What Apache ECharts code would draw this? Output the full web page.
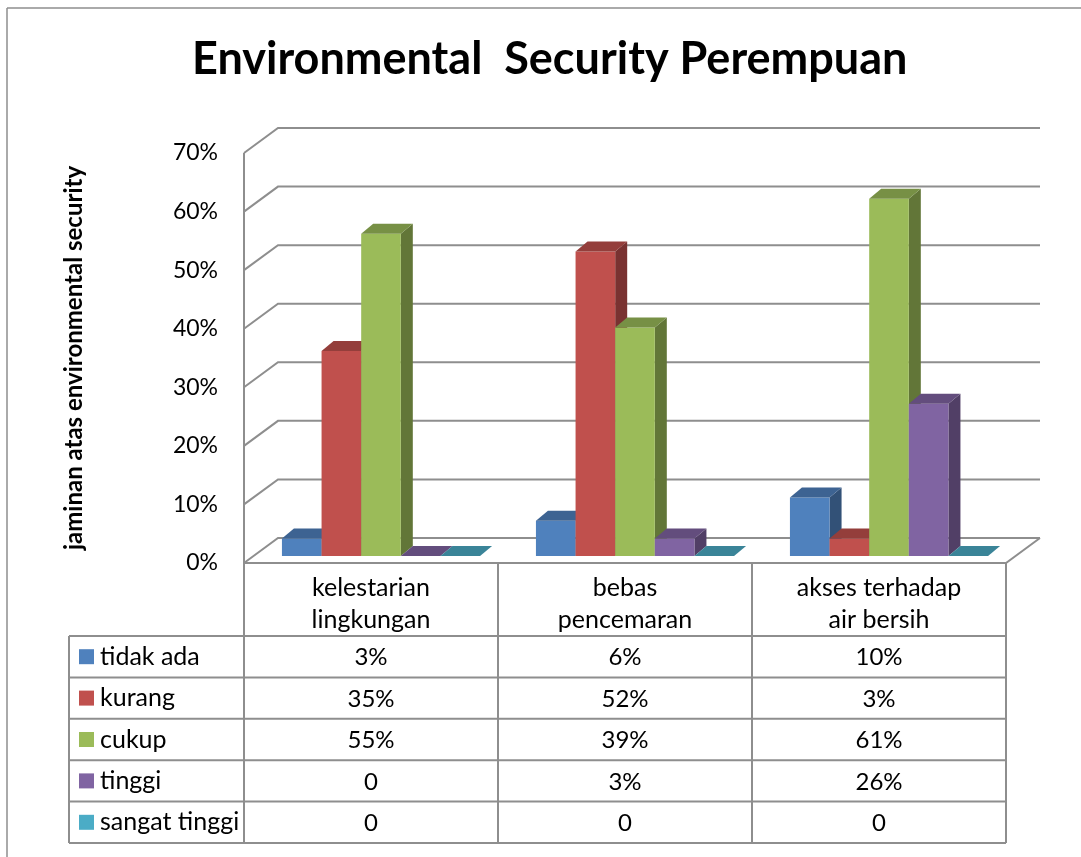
<!DOCTYPE html>
<html>
<head>
<meta charset="utf-8">
<script src="https://cdn.jsdelivr.net/npm/echarts@6/dist/echarts.min.js"></script>
<style>
  html, body { margin: 0; padding: 0; background: #ffffff; }
  #chart { width: 1081px; height: 857px; }
</style>
</head>
<body>
<div id="chart"></div>
<script>
// ---- data ----
const categories = ['kelestarian\nlingkungan', 'bebas\npencemaran', 'akses terhadap\nair bersih'];
const seriesNames = ['tidak ada', 'kurang', 'cukup', 'tinggi', 'sangat tinggi'];
const tidakAda = [3, 6, 10];
const kurang = [35, 52, 3];
const cukup = [55, 39, 61];
const tinggi = [0, 3, 26];
const sangatTinggi = [0, 0, 0];
const yTicks = [0, 10, 20, 30, 40, 50, 60, 70];
const titleText = 'Environmental  Security Perempuan';
const yAxisTitle = 'jaminan atas environmental security';

const seriesValues = [tidakAda, kurang, cukup, tinggi, sangatTinggi];
const seriesColors = ['#4F81BD', '#C0504D', '#9BBB59', '#8064A2', '#4BACC6'];

// ---- layout / style ----
const FONT = 'Lato';
const TEXT_SIZE = 24;
const LINE = '#8e8e8e';
const WALL = [34, -25];        // depth offset of the back wall
const BAR_OFF = [10, -7];      // bar front plane relative to floor front edge
const BAR_DEPTH = [12, -10];   // depth of one column
const BAR_RATIO = 0.156;       // column width / category band
const ROW_GAP = 73;            // header row height of the data table
const ROW_H = 41.4;            // data table row height
const LEGEND_W = 175;          // width of the legend column of the table

function shade(hex, k) {
  const n = parseInt(hex.slice(1), 16);
  const r = Math.round(((n >> 16) & 255) * k);
  const g = Math.round(((n >> 8) & 255) * k);
  const b = Math.round((n & 255) * k);
  return 'rgb(' + r + ',' + g + ',' + b + ')';
}

// back wall, side wall and floor
function renderWalls(params, api) {
  const cs = params.coordSys;
  const x0 = cs.x, x1 = cs.x + cs.width;
  const v = api.value(1);
  const y = api.coord([0, v])[1];
  const st = { stroke: LINE, lineWidth: 2, fill: null };
  const children = [{
    type: 'polyline',
    shape: { points: [[x0, y], [x0 + WALL[0], y + WALL[1]], [x1 + WALL[0], y + WALL[1]]] },
    style: st
  }];
  if (v === 0) {
    children.push({
      type: 'polyline',
      shape: { points: [[x0, y], [x1, y], [x1 + WALL[0], y + WALL[1]]] },
      style: st
    });
  }
  return { type: 'group', children: children };
}

// 3D-looking column: front, top and right side faces
function makeBarRenderer(si) {
  const color = seriesColors[si];
  const topColor = shade(color, 0.77);
  const sideColor = shade(color, 0.63);
  return function (params, api) {
    const c = api.value(0), v = api.value(1);
    const base = api.coord([c, 0]);
    const top = api.coord([c, v]);
    const band = api.size([1, 0])[0];
    const bw = band * BAR_RATIO;
    const n = seriesNames.length;
    const left = base[0] + BAR_OFF[0] + (si - n / 2) * bw;
    const yb = base[1] + BAR_OFF[1];
    const yt = top[1] + BAR_OFF[1];
    const dx = BAR_DEPTH[0], dy = BAR_DEPTH[1];
    const children = [];
    if (v > 0) {
      children.push({
        type: 'polygon',
        shape: { points: [[left + bw, yt], [left + bw + dx, yt + dy], [left + bw + dx, yb + dy], [left + bw, yb]] },
        style: { fill: sideColor }
      });
      children.push({
        type: 'rect',
        shape: { x: left, y: yt, width: bw, height: yb - yt },
        style: { fill: color }
      });
    }
    children.push({
      type: 'polygon',
      shape: { points: [[left, yt], [left + bw, yt], [left + bw + dx, yt + dy], [left + dx, yt + dy]] },
      style: { fill: topColor }
    });
    return { type: 'group', children: children };
  };
}

// grid lines of the data table
function renderTableLines(params, api) {
  const cs = params.coordSys;
  const x0 = cs.x, x1 = cs.x + cs.width;
  const yFloor = cs.y + cs.height;
  const rowTop = yFloor + ROW_GAP;
  const bottom = rowTop + seriesNames.length * ROW_H;
  const band = api.size([1, 0])[0];
  const st = { stroke: LINE, lineWidth: 2, fill: null };
  const children = [];
  for (let i = 0; i <= seriesNames.length; i++) {
    const y = rowTop + i * ROW_H;
    children.push({ type: 'line', shape: { x1: x0 - LEGEND_W, y1: y, x2: x1, y2: y }, style: st });
  }
  children.push({ type: 'line', shape: { x1: x0 - LEGEND_W, y1: rowTop, x2: x0 - LEGEND_W, y2: bottom }, style: st });
  children.push({ type: 'line', shape: { x1: x0, y1: cs.y, x2: x0, y2: bottom }, style: st });
  for (let c = 1; c <= categories.length; c++) {
    const x = x0 + c * band;
    children.push({ type: 'line', shape: { x1: x, y1: yFloor, x2: x, y2: bottom }, style: st });
  }
  return { type: 'group', children: children };
}

// value cells of the data table
function renderTableCell(params, api) {
  const cs = params.coordSys;
  const c = api.value(0), s = api.value(1), v = api.value(2);
  const x = api.coord([c, 0])[0];
  const y = cs.y + cs.height + ROW_GAP + (s + 0.5) * ROW_H;
  return {
    type: 'text',
    style: {
      text: v === 0 ? '0' : v + '%',
      x: x, y: y + 1,
      align: 'center', verticalAlign: 'middle',
      fill: '#000', fontSize: TEXT_SIZE, fontFamily: FONT
    }
  };
}

// legend column of the data table
function renderTableLegend(params, api) {
  const cs = params.coordSys;
  const s = api.value(1);
  const xl = cs.x - LEGEND_W;
  const y = cs.y + cs.height + ROW_GAP + (s + 0.5) * ROW_H;
  return {
    type: 'group',
    children: [
      { type: 'rect', shape: { x: xl + 10, y: y - 7.5, width: 15, height: 15 }, style: { fill: seriesColors[s] } },
      {
        type: 'text',
        style: {
          text: seriesNames[s], x: xl + 31, y: y,
          align: 'left', verticalAlign: 'middle',
          fill: '#000', fontSize: TEXT_SIZE + 1, fontFamily: FONT
        }
      }
    ]
  };
}

const cellData = [];
seriesValues.forEach(function (vals, s) {
  vals.forEach(function (v, c) { cellData.push([c, s, v]); });
});

const series = [
  {
    type: 'custom', name: 'walls', renderItem: renderWalls, silent: true, z: 1,
    data: yTicks.map(function (v) { return [0, v]; })
  },
  {
    type: 'custom', name: 'tableLines', renderItem: renderTableLines, silent: true, z: 1,
    data: [[0, 0]]
  }
];
seriesValues.forEach(function (vals, si) {
  series.push({
    type: 'custom', name: seriesNames[si], renderItem: makeBarRenderer(si), z: 2 + si,
    data: vals.map(function (v, c) { return [c, v]; })
  });
});
series.push({
  type: 'custom', name: 'tableCells', renderItem: renderTableCell, silent: true, z: 10,
  encode: { x: 0, y: 2 },
  data: cellData
});
series.push({
  type: 'custom', name: 'tableLegend', renderItem: renderTableLegend, silent: true, z: 10,
  encode: { x: 0, y: 1 },
  data: seriesNames.map(function (n, s) { return [0, s]; })
});

const chart = echarts.init(document.getElementById('chart'), null, { renderer: 'canvas' });
chart.setOption({
  backgroundColor: '#ffffff',
  animation: false,
  title: {
    text: titleText,
    left: 187, top: 32,
    textStyle: { fontSize: 45, fontWeight: 'bold', color: '#000', fontFamily: FONT }
  },
  grid: { left: 244, top: 153, right: 75, bottom: 294 },
  xAxis: {
    type: 'category',
    data: categories,
    axisLine: { show: false },
    axisTick: { show: false },
    splitLine: { show: false },
    axisLabel: { margin: 9, fontSize: 25, lineHeight: 32, color: '#000', fontFamily: FONT, interval: 0 }
  },
  yAxis: {
    type: 'value',
    min: 0, max: 70, interval: 10,
    name: yAxisTitle,
    nameLocation: 'middle',
    nameRotate: 90,
    nameGap: 158,
    nameTextStyle: { fontSize: 24, fontWeight: 'bold', color: '#000', fontFamily: FONT },
    axisLine: { show: false },
    axisTick: { show: false },
    splitLine: { show: false },
    axisLabel: { margin: 26, fontSize: 23, color: '#000', fontFamily: FONT, formatter: '{value}%' }
  },
  graphic: [
    { type: 'line', shape: { x1: 7, y1: 8, x2: 1081, y2: 8 }, style: { stroke: '#8e8e8e', lineWidth: 1.5 } },
    { type: 'line', shape: { x1: 7, y1: 8, x2: 7, y2: 857 }, style: { stroke: '#8e8e8e', lineWidth: 1.5 } }
  ],
  series: series
});
</script>
</body>
</html>
